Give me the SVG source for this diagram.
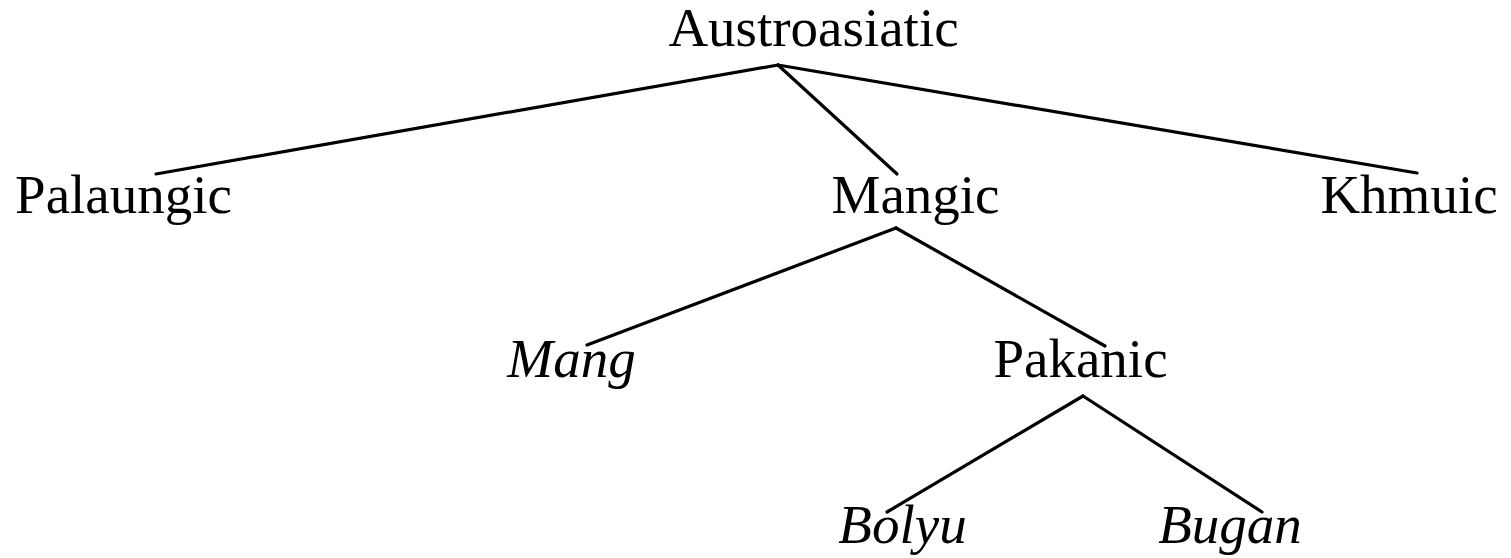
<svg xmlns="http://www.w3.org/2000/svg" width="1511" height="558" viewBox="0 0 1511 558">
<style>
text{font-family:"Liberation Serif","Times New Roman",serif;font-size:55px;fill:#000;text-anchor:middle}
.it{font-style:italic}
.edge{stroke:#000;stroke-width:3.2;fill:none;stroke-linecap:round}
</style>
<rect width="1511" height="558" fill="#fff"/>
<g id="connectors">
<line class="edge" x1="778" y1="65" x2="156" y2="174"/>
<line class="edge" x1="778" y1="65" x2="897" y2="174"/>
<line class="edge" x1="778" y1="65" x2="1417" y2="173"/>
<line class="edge" x1="896" y1="228" x2="587" y2="345"/>
<line class="edge" x1="896" y1="228" x2="1105" y2="346"/>
<line class="edge" x1="1083" y1="396" x2="887" y2="512"/>
<line class="edge" x1="1083" y1="396" x2="1262" y2="512"/>
</g>
<g id="austroasiatic"><text x="813.5" y="46">Austroasiatic</text></g>
<g id="palaungic"><text x="123.5" y="213">Palaungic</text></g>
<g id="mangic"><text x="915.5" y="213">Mangic</text></g>
<g id="khmuic"><text x="1409" y="213">Khmuic</text></g>
<g id="mang"><text class="it" x="571.5" y="377">Mang</text></g>
<g id="pakanic"><text x="1080.5" y="377">Pakanic</text></g>
<g id="bolyu"><text class="it" x="902.5" y="543">Bolyu</text></g>
<g id="bugan"><text class="it" x="1230" y="543">Bugan</text></g>
</svg>
